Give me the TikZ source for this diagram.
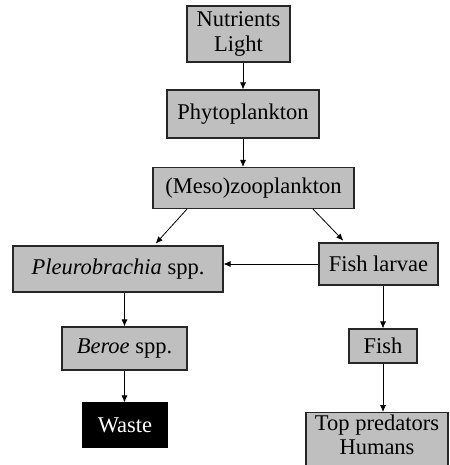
\documentclass[tikz,border=0pt]{standalone}
\usepackage{fontspec}
\setmainfont{Liberation Serif}
\usetikzlibrary{arrows.meta}
\begin{document}
\begin{tikzpicture}[x=1pt,y=-1pt,
  box/.style={draw=black!85, line width=1.1pt, fill=black!25, inner sep=0pt,
    font=\fontsize{22.5}{24.5}\selectfont, align=center},
  arr/.style={-{Latex[length=7pt,width=6pt]}, line width=0.8pt, black}]
\useasboundingbox (0,0) rectangle (449,465);
\begin{scope}
\clip (0,0) rectangle (449,465);
\node[box, minimum width=103pt, minimum height=56pt] (nut) at (238.5,34) {Nutrients\\Light};
\node[box, minimum width=152pt, minimum height=48pt] (phy) at (243,114) {Phytoplankton};
\node[box, minimum width=201pt, minimum height=41pt] (meso) at (253.5,188) {(Meso)zooplankton};
\node[box, minimum width=210pt, minimum height=46pt] (pleuro) at (118,269) {\textit{Pleurobrachia} spp.};
\node[box, minimum width=119pt, minimum height=42pt] (larvae) at (378.5,264) {Fish larvae};
\node[box, minimum width=125pt, minimum height=43pt] (beroe) at (124.5,348.5) {\textit{Beroe} spp.};
\node[box, fill=black, draw=black, text=white, minimum width=84pt, minimum height=44pt] (waste) at (125,425) {Waste};
\node[box, minimum width=68pt, minimum height=34pt] (fish) at (383,346) {Fish};
\node[box, minimum width=142pt, minimum height=70pt, anchor=north] (top) at (377,412) {};
\node[font=\fontsize{22.5}{23.5}\selectfont, align=center, anchor=north, inner sep=0pt] (toptxt) at (377,415) {Top predators\\Humans};
\end{scope}
\coordinate (c243) at (243,0);
\coordinate (c187) at (187,0);
\coordinate (c154) at (154,0);
\coordinate (c313) at (313,0);
\coordinate (c345) at (345,0);
\coordinate (c124) at (124.5,0);
\coordinate (c383) at (383,0);
\draw[arr] (nut.south -| c243) -- (phy.north -| c243);
\draw[arr] (phy.south -| c243) -- (meso.north -| c243);
\draw[arr, shorten >=2.5pt] (meso.south -| c187) -- (pleuro.north -| c154);
\draw[arr, shorten >=2.5pt] (meso.south -| c313) -- (larvae.north -| c345);
\draw[arr] (larvae.west) -- (pleuro.east |- larvae.west);
\draw[arr] (pleuro.south -| c124) -- (beroe.north -| c124);
\draw[arr] (beroe.south -| c124) -- (waste.north -| c124);
\draw[arr] (larvae.south -| c383) -- (fish.north -| c383);
\draw[arr] (fish.south -| c383) -- (top.north -| c383);
\end{tikzpicture}
\end{document}
